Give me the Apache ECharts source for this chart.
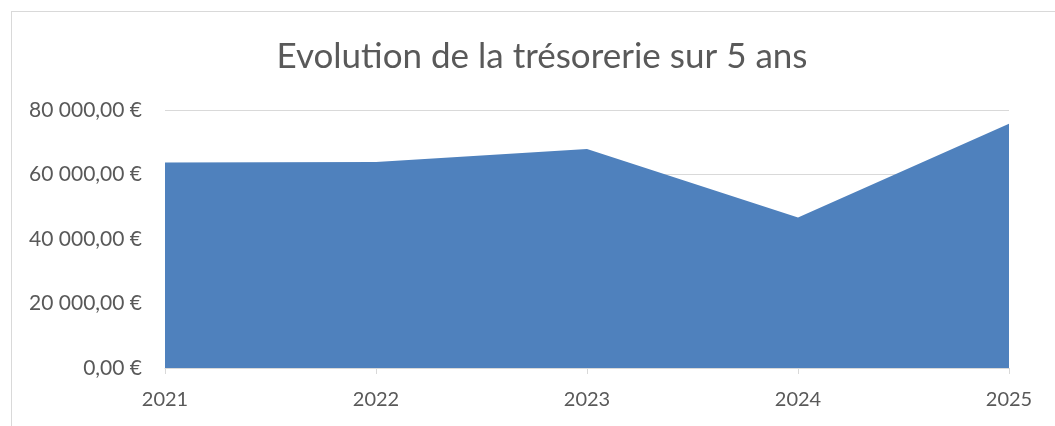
<!DOCTYPE html>
<html>
<head>
<meta charset="utf-8">
<script src="https://cdn.jsdelivr.net/npm/echarts@6/dist/echarts.min.js"></script>
<style>
  html, body { margin: 0; padding: 0; background: #fff; overflow: hidden; }
  .frame {
    position: absolute;
    left: 11px;
    top: 11px;
    width: 1100px;
    height: 460px;
    border: 1px solid #d9d9d9;
  }
  .chart-box {
    position: absolute;
    left: 0;
    top: 0;
    width: 1055px;
    height: 426px;
  }
</style>
</head>
<body>
<div class="frame"></div>
<div class="chart-box" id="chart"></div>
<script>
// années et trésorerie
const years = ['2021', '2022', '2023', '2024', '2025']
const tresorerie = [63700, 63900, 67900, 46700, 75700]
const titleText = 'Evolution de la trésorerie sur 5 ans'

const formatEuro = (v) => {
  const s = Math.round(v).toString().replace(/\B(?=(\d{3})+(?!\d))/g, ' ')
  return s + ',00 €'
}

const myChart = echarts.init(document.getElementById('chart'))

myChart.setOption({
  animation: false,
  textStyle: { fontFamily: 'Lato' },
  title: {
    text: titleText,
    left: 537,
    top: 34,
    textAlign: 'center',
    textStyle: {
      fontFamily: 'Lato',
      fontSize: 35,
      fontWeight: 'normal',
      color: '#595959'
    }
  },
  grid: {
    left: 165,
    right: 46,
    top: 110,
    bottom: 58
  },
  xAxis: {
    type: 'category',
    boundaryGap: false,
    data: years,
    axisLine: { lineStyle: { color: '#d9d9d9', width: 1 } },
    axisTick: { show: true, length: 6, lineStyle: { color: '#d9d9d9' } },
    axisLabel: { color: '#595959', fontSize: 20, margin: 22 }
  },
  yAxis: {
    type: 'value',
    min: 0,
    max: 80000,
    interval: 20000,
    axisLine: { show: false },
    axisTick: { show: false },
    axisLabel: {
      color: '#595959',
      fontSize: 21,
      margin: 23,
      formatter: formatEuro
    },
    splitLine: { lineStyle: { color: '#d9d9d9', width: 1 } }
  },
  series: [
    {
      type: 'line',
      data: tresorerie,
      symbol: 'none',
      lineStyle: { width: 0 },
      areaStyle: { color: '#4f81bd', opacity: 1 },
      itemStyle: { color: '#4f81bd' }
    }
  ]
})
</script>
</body>
</html>
